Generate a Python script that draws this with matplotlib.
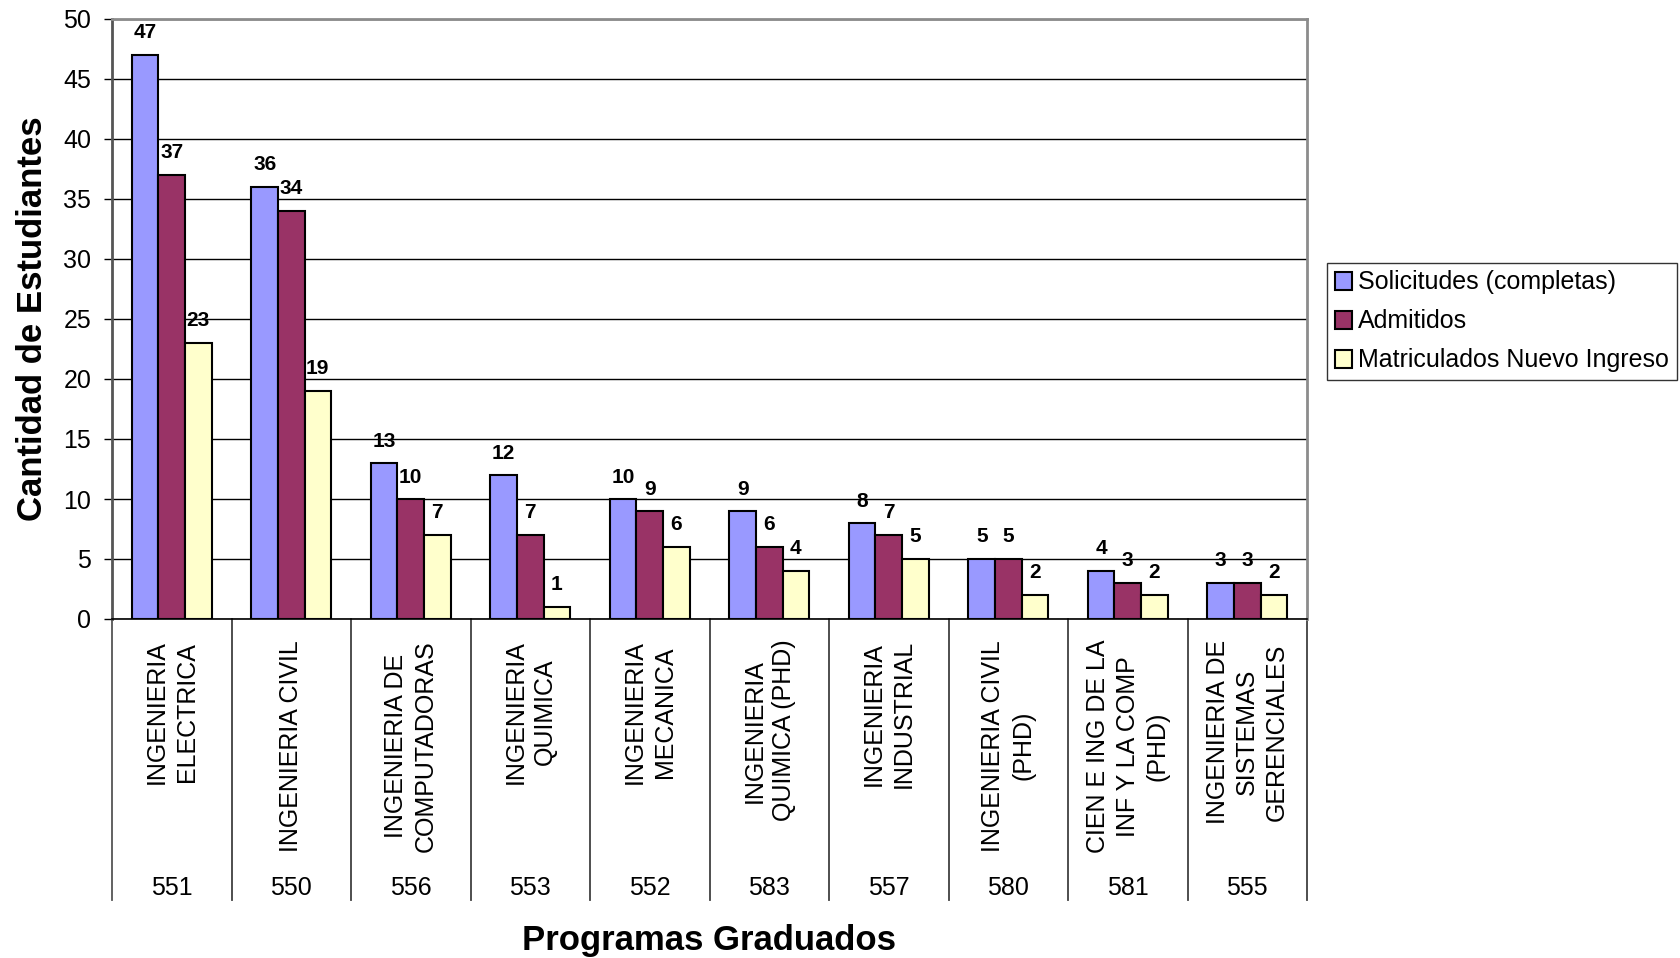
import numpy as np
import matplotlib
matplotlib.use("Agg")
import matplotlib.pyplot as plt

plt.rcParams['font.family'] = ['Liberation Sans', 'DejaVu Sans']

programas = [
    "INGENIERIA\nELECTRICA",
    "INGENIERIA CIVIL",
    "INGENIERIA DE\nCOMPUTADORAS",
    "INGENIERIA\nQUIMICA",
    "INGENIERIA\nMECANICA",
    "INGENIERIA\nQUIMICA (PHD)",
    "INGENIERIA\nINDUSTRIAL",
    "INGENIERIA CIVIL\n(PHD)",
    "CIEN E ING DE LA\nINF Y LA COMP\n(PHD)",
    "INGENIERIA DE\nSISTEMAS\nGERENCIALES",
]
codigos = ["551", "550", "556", "553", "552", "583", "557", "580", "581", "555"]

solicitudes = [47, 36, 13, 12, 10, 9, 8, 5, 4, 3]
admitidos = [37, 34, 10, 7, 9, 6, 7, 5, 3, 3]
matriculados = [23, 19, 7, 1, 6, 4, 5, 2, 2, 2]

series = [
    ("Solicitudes (completas)", solicitudes, "#9999FF"),
    ("Admitidos", admitidos, "#993366"),
    ("Matriculados Nuevo Ingreso", matriculados, "#FFFFCC"),
]

fig = plt.figure(figsize=(16.8, 9.58), dpi=100)
# axes placed to match the reference plot area
ax = fig.add_axes([112 / 1680, 1 - 619 / 958, 1195 / 1680, 600 / 958])

x = np.arange(len(programas))
w = 0.222

for i, (name, vals, color) in enumerate(series):
    pos = x + (i - 1) * w
    ax.bar(pos, vals, width=w, color=color, edgecolor='black', linewidth=1.5,
           label=name, zorder=3)
    for px, v in zip(pos, vals):
        ax.annotate(str(v), (px, v), xytext=(0, 9), textcoords='offset points',
                    ha='center', va='bottom', fontsize=15, fontweight='bold')

ax.set_xlim(-0.5, len(programas) - 0.5)
ax.set_ylim(0, 50)
ax.set_yticks(range(0, 51, 5))
ax.yaxis.grid(True, color='black', linewidth=1)
ax.set_axisbelow(True)
ax.tick_params(axis='y', direction='out', length=6, width=1, pad=9, labelsize=18)

ax.set_xticks(x)
ax.set_xticklabels(programas, rotation=90, ha='center', va='top',
                   multialignment='center', fontsize=18, linespacing=1.3)
ax.tick_params(axis='x', length=0, pad=15)

for side in ['top', 'right']:
    ax.spines[side].set_color('#8c8c8c')
    ax.spines[side].set_linewidth(2)
ax.spines['left'].set_color('#555555')
ax.spines['left'].set_linewidth(2)
ax.spines['bottom'].set_color('black')
ax.spines['bottom'].set_linewidth(1.2)

# second level of the category axis: program codes and dividers
xt = ax.get_xaxis_transform()
for xi, code in zip(x, codigos):
    ax.text(xi, -0.46, code, transform=xt, ha='center', va='baseline', fontsize=18)
for b in np.arange(-0.5, len(programas), 1.0):
    c = '#555555' if b == -0.5 else '#404040'
    ax.plot([b, b], [0, -0.468], transform=xt, color=c, linewidth=1.3, clip_on=False)

fig.text(33 / 1680, 1 - 319 / 958, "Cantidad de Estudiantes", rotation=90,
         ha='center', va='center', fontsize=25, fontweight='bold')
fig.text(709.5 / 1680, 1 - 950 / 958, "Programas Graduados",
         ha='center', va='baseline', fontsize=25, fontweight='bold')

leg = ax.legend(loc='upper left', bbox_to_anchor=(1327 / 1680, 1 - 263 / 958),
                bbox_transform=fig.transFigure, fontsize=18, frameon=True,
                fancybox=False, borderpad=0.3, labelspacing=0.6,
                handlelength=0.7, handleheight=0.7, handletextpad=0.25,
                borderaxespad=0)
leg.get_frame().set_edgecolor('black')
leg.get_frame().set_linewidth(1)

fig.savefig("out.png", dpi=100)
